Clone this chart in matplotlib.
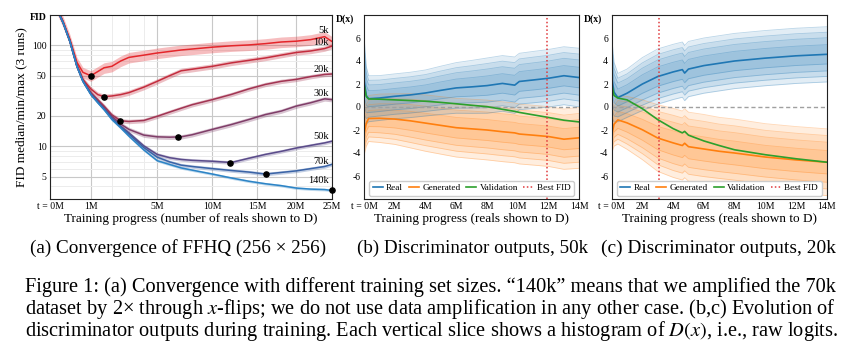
import numpy as np
import matplotlib
matplotlib.use("Agg")
import matplotlib.pyplot as plt
from matplotlib.lines import Line2D
from matplotlib.ticker import FixedLocator, FixedFormatter, NullFormatter, LogLocator

plt.rcParams['font.family'] = ['Liberation Serif', 'DejaVu Serif']
plt.rcParams['mathtext.fontset'] = 'stix'
plt.rcParams['axes.unicode_minus'] = False

# ---- (a) FID vs training progress (millions of reals), median of 3 runs
fid_x = [0.05, 0.15, 0.3, 0.5, 0.7, 1, 1.3, 1.6, 2, 2.5, 3, 4, 5, 6, 7, 8,
         10, 12, 14, 16, 18, 20, 22, 24, 25]
fid_5k = [235, 172, 115, 68, 54, 50, 55, 60, 62, 70, 76, 80, 84, 87, 90, 92,
          96, 99, 101, 104, 108, 110, 114, 122, 110]
fid_10k = [232, 170, 112, 64, 46, 37, 32.5, 31, 31.5, 32.5, 34, 38.5, 44, 50, 56, 58,
           62, 67, 71, 75, 80, 85, 88, 93, 98]
fid_20k = [230, 168, 110, 62, 45, 34, 29, 25, 20.5, 17.9, 17.6, 18.0, 19.8, 21.8, 23.8, 25.8,
           29, 32.6, 37, 41, 44, 46, 49, 51.5, 52]
fid_30k = [230, 168, 110, 62, 44.5, 33.5, 28, 24, 19.8, 16.6, 14.7, 12.9, 12.4, 12.3, 12.4, 13.0,
           14.7, 16.4, 18.4, 20.6, 22.3, 25, 27, 29.5, 29]
fid_50k = [230, 168, 110, 62, 44, 33, 27.5, 23.5, 19, 15.8, 13.6, 10.1, 8.3, 7.7, 7.4, 7.25,
           7.1, 6.9, 7.6, 8.3, 8.9, 9.6, 10.2, 10.8, 11.2]
fid_70k = [230, 168, 110, 62, 44, 33, 27.5, 23.5, 19, 15.6, 13.2, 9.7, 7.8, 7.0, 6.5, 6.3,
           6.0, 5.75, 5.55, 5.3, 5.5, 5.7, 6.0, 6.3, 6.6]
fid_140k = [230, 168, 110, 62, 44, 32.5, 27, 23, 18.4, 15.2, 12.6, 9.2, 7.2, 6.6, 6.1, 5.8,
            5.3, 4.85, 4.5, 4.25, 4.07, 3.85, 3.76, 3.72, 3.65]
sizes = ['5k', '10k', '20k', '30k', '50k', '70k', '140k']
best_x = [1.0, 1.6, 2.45, 6.75, 11.85, 16.1, 25]
best_fid = [50, 31, 17.7, 12.3, 6.85, 5.25, 3.65]

curves = [fid_5k, fid_10k, fid_20k, fid_30k, fid_50k, fid_70k, fid_140k]
colors = ['#e4262b', '#c42d3e', '#a23452', '#7f3d68', '#5a4b8a', '#3a63a6', '#2c84c6']
band_w = [0.12, 0.06, 0.05, 0.05, 0.04, 0.04, 0.03]
label_y = [142, 107, 58, 33, 12.5, 7.0, 4.6]

# ---- (b) 50k / (c) 20k discriminator outputs: median and outer spread
b_x = [0, 0.15, 0.3, 1, 2, 3, 4, 5, 6, 7, 8, 9, 9.8, 10.1, 11, 12, 13, 14]
real_b = [2.4, 1.0, 0.72, 0.78, 0.93, 1.05, 1.22, 1.45, 1.66, 1.75, 1.86, 2.05, 1.9, 2.22, 2.35, 2.5, 2.72, 2.56]
real_b_spread = [3.8, 2.5, 2.0, 1.95, 1.95, 1.97, 2.0, 2.1, 2.2, 2.3, 2.4, 2.42, 2.45, 2.45, 2.48, 2.5, 2.52, 2.55]
gen_b = [-2.4, -1.4, -1.0, -0.98, -1.05, -1.2, -1.4, -1.6, -1.8, -1.9, -2.0, -2.15, -2.25, -2.35, -2.45, -2.57, -2.8, -2.68]
gen_b_spread = [1.8, 2.0, 2.0, 2.1, 2.2, 2.35, 2.45, 2.5, 2.55, 2.58, 2.6, 2.6, 2.6, 2.6, 2.6, 2.6, 2.62, 2.65]
val_b = [2.0, 0.9, 0.7, 0.68, 0.62, 0.56, 0.5, 0.4, 0.28, 0.15, 0.03, -0.2, -0.38, -0.47, -0.68, -0.91, -1.15, -1.3]
best_b = 11.9

c_x = [0, 0.15, 0.4, 1, 2, 3, 4, 4.6, 4.75, 5, 6, 7, 8, 10, 12, 14]
real_c = [2.6, 1.3, 0.82, 1.2, 2.0, 2.65, 3.05, 3.25, 2.95, 3.3, 3.6, 3.8, 4.0, 4.25, 4.45, 4.58]
real_c_spread = [3.5, 2.6, 2.1, 2.1, 2.3, 2.4, 2.4, 2.4, 2.4, 2.4, 2.4, 2.4, 2.4, 2.4, 2.4, 2.4]
gen_c = [-2.5, -1.5, -1.12, -1.38, -1.98, -2.7, -3.12, -3.35, -3.15, -3.45, -3.65, -3.85, -4.0, -4.35, -4.6, -4.8]
gen_c_spread = [1.5, 1.9, 2.1, 2.3, 2.6, 2.9, 3.0, 3.0, 3.0, 3.0, 3.0, 2.95, 2.95, 2.9, 2.9, 2.9]
val_c = [2.0, 1.0, 0.78, 0.62, -0.15, -1.1, -1.88, -2.25, -2.12, -2.45, -2.95, -3.35, -3.72, -4.15, -4.5, -4.8]
best_c = 3.1

band_levels = [0.35, 0.6, 0.8, 1.0]

fig = plt.figure(figsize=(8.46, 3.5), dpi=100)
W, H = 846, 350


def box(l, t, r, b):
    return [l / W, 1 - b / H, (r - l) / W, (b - t) / H]


def style(ax):
    for s in ax.spines.values():
        s.set_color('#222222')
        s.set_linewidth(0.8)
    ax.tick_params(length=0, pad=2.5, labelsize=7)


# ---------------- panel (a)
ax = fig.add_axes(box(50, 15, 331.5, 199))
ax.set_xscale('function', functions=(lambda v: np.sign(v) * np.abs(v) ** 0.6,
                                     lambda v: np.sign(v) * np.abs(v) ** (1 / 0.6)))
ax.set_yscale('log')
for ys, c, w in zip(curves, colors, band_w):
    ys = np.array(ys)
    ax.fill_between(fid_x, ys * (1 - w), ys * (1 + w), color=c, alpha=0.3, lw=0)
    ax.plot(fid_x, ys, color=c, lw=1.1)
ax.scatter(best_x, best_fid, s=14, color='black', zorder=5, clip_on=False)
for name, ly in zip(sizes, label_y):
    ax.text(24.6, ly, name, ha='right', va='center', fontsize=7.5)
ax.set_xlim(0, 25)
ax.set_ylim(3, 200)
ax.xaxis.set_major_locator(FixedLocator([0, 1, 5, 10, 15, 20, 25]))
ax.xaxis.set_major_formatter(FixedFormatter(['t = 0M', '1M', '5M', '10M', '15M', '20M', '25M']))
ax.xaxis.set_minor_locator(FixedLocator([2, 3, 4]))
ax.yaxis.set_major_locator(FixedLocator([5, 10, 20, 50, 100]))
ax.yaxis.set_major_formatter(FixedFormatter(['5', '10', '20', '50', '100']))
ax.yaxis.set_minor_locator(LogLocator(base=10, subs=np.arange(2, 10)))
ax.yaxis.set_minor_formatter(NullFormatter())
ax.grid(True, which='major', color='#c8c8c8', lw=0.8)
ax.grid(True, which='minor', color='#ececec', lw=0.7)
ax.set_axisbelow(True)
style(ax)
ax.tick_params(which='minor', length=0)
ax.set_xlabel('Training progress (number of reals shown to D)', fontsize=9.5, labelpad=1)
ax.set_ylabel('FID median/min/max (3 runs)', fontsize=9.5, labelpad=3)
ax.text(-0.012, 0.985, 'FID', transform=ax.transAxes, ha='right', va='center',
        fontsize=7, fontweight='bold')


# ---------------- panels (b), (c)
def disc_panel(ax, x, real, real_s, gen, gen_s, val, best):
    for med, sp, c in [(gen, gen_s, '#ff7f0e'), (real, real_s, '#1f77b4')]:
        med = np.array(med)
        sp = np.array(sp)
        for f in band_levels:
            lo, hi = med - f * sp, med + f * sp
            ax.fill_between(x, lo, hi, color=c, alpha=0.13, lw=0)
            ax.plot(x, lo, color=c, lw=0.6, alpha=0.3)
            ax.plot(x, hi, color=c, lw=0.6, alpha=0.3)
    ax.axhline(0, color='#a0a0a0', lw=1.0, ls=(0, (3, 2)))
    ax.plot(x, real, color='#1f77b4', lw=1.2)
    ax.plot(x, gen, color='#ff7f0e', lw=1.2)
    ax.plot(x, val, color='#2ca02c', lw=1.2)
    ax.axvline(best, color='#e0393c', lw=1.1, ls=(0, (1, 1.5)))
    ax.set_xlim(0, 14)
    ax.set_ylim(-8, 8)
    ax.set_xticks(range(0, 15, 2))
    ax.set_xticklabels(['t = 0M'] + ['%dM' % v for v in range(2, 15, 2)])
    ax.set_yticks(range(-6, 7, 2))
    style(ax)
    ax.set_xlabel('Training progress (reals shown to D)', fontsize=9.5, labelpad=1)
    ax.text(-0.045, 0.975, 'D(x)', transform=ax.transAxes, ha='right', va='center',
            fontsize=7, fontweight='bold')
    handles = [Line2D([], [], color='#1f77b4', lw=1.2),
               Line2D([], [], color='#ff7f0e', lw=1.2),
               Line2D([], [], color='#2ca02c', lw=1.2),
               Line2D([], [], color='#e0393c', lw=1.1, ls=(0, (1, 1.5)))]
    ax.legend(handles, ['Real', 'Generated', 'Validation', 'Best FID'], loc='lower center',
              ncol=4, fontsize=6.7, handlelength=1.1, handletextpad=0.35, columnspacing=0.6,
              borderpad=0.35, borderaxespad=0.35, framealpha=1, edgecolor='#cccccc')


axb = fig.add_axes(box(364, 15, 579.3, 199))
disc_panel(axb, b_x, real_b, real_b_spread, gen_b, gen_b_spread, val_b, best_b)
axc = fig.add_axes(box(611.7, 15, 826.7, 199))
disc_panel(axc, c_x, real_c, real_c_spread, gen_c, gen_c_spread, val_c, best_c)

# ---------------- captions
subs = [('(a) Convergence of FFHQ (256 × 256)', 178, 296),
        ('(b) Discriminator outputs, 50k', 472, 231),
        ('(c) Discriminator outputs, 20k', 718, 235)]
lines = ['Figure 1: (a) Convergence with different training set sizes. “140k” means that we amplified the 70k',
         'dataset by 2× through $x$-flips; we do not use data amplification in any other case. (b,c) Evolution of',
         'discriminator outputs during training. Each vertical slice shows a histogram of $D(x)$, i.e., raw logits.']
fit = []
for s, cx, w in subs:
    t = fig.text(cx / W, 1 - 248 / H, s, ha='center', va='center', fontsize=11.5)
    fit.append((t, w))
for i, s in enumerate(lines):
    t = fig.text(25 / W, 1 - (287 + 22 * i) / H, s, ha='left', va='center', fontsize=12)
    fit.append((t, 810))

fig.canvas.draw()
r = fig.canvas.get_renderer()
for t, w in fit:
    cur = t.get_window_extent(r).width
    t.set_fontsize(t.get_fontsize() * w / cur)

fig.savefig('out.png', dpi=100)
